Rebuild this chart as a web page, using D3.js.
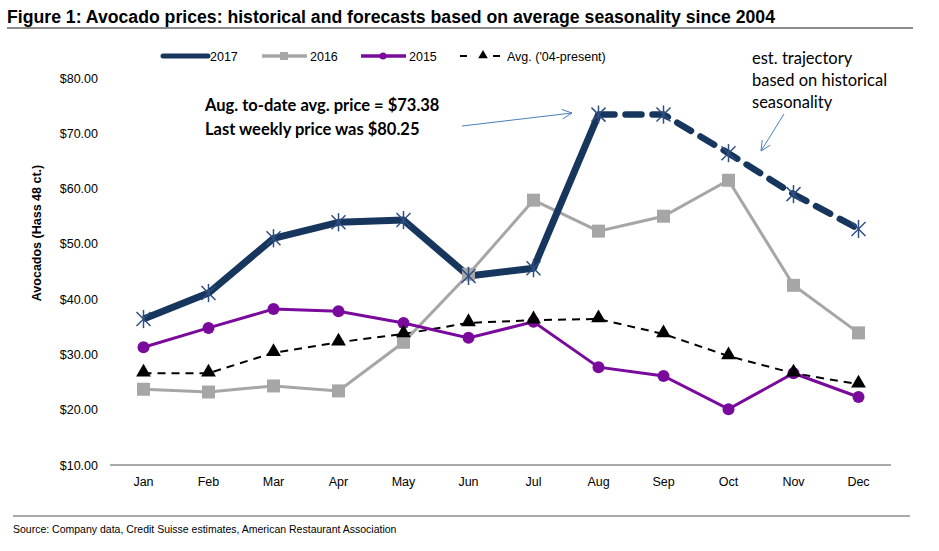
<!DOCTYPE html>
<html><head><meta charset="utf-8">
<script src="https://cdn.jsdelivr.net/npm/d3@7"></script>
<style>body{margin:0;background:#fff}svg{display:block}</style>
</head><body>
<script>
const months = ["Jan","Feb","Mar","Apr","May","Jun","Jul","Aug","Sep","Oct","Nov","Dec"];
const y2017 = [36.4,41.1,51.0,53.9,54.3,44.2,45.6,73.38,73.4,66.4,59.0,52.7];
const y2016 = [23.7,23.2,24.3,23.4,32.2,44.5,57.9,52.3,55.0,61.5,42.5,33.9];
const y2015 = [31.3,34.8,38.2,37.8,35.7,33.0,35.9,27.7,26.1,20.1,26.6,22.3];
const yAvg  = [26.6,26.6,30.3,32.2,33.7,35.7,36.2,36.4,33.7,29.7,26.6,24.6];
const yTicks = [10,20,30,40,50,60,70,80];
const actualUntil = 7; // index of Aug: solid up to here, dashed after

const W=939,H=551;
const svg=d3.select("body").append("svg").attr("width",W).attr("height",H);
const x=d3.scaleBand().domain(months).range([111,891]);
const cx=m=>x(m)+x.bandwidth()/2;
const y=d3.scaleLinear().domain([10,80]).range([465,78]);

// title
svg.append("text").attr("x",7).attr("y",23).attr("font-family","Liberation Sans, Arial, sans-serif")
  .attr("font-weight","bold").attr("font-size",17.5).attr("fill","#000")
  .attr("textLength",768).attr("lengthAdjust","spacingAndGlyphs")
  .text("Figure 1: Avocado prices: historical and forecasts based on average seasonality since 2004");
svg.append("line").attr("x1",7).attr("x2",913).attr("y1",28).attr("y2",28).attr("stroke","#8c8c8c").attr("stroke-width",2);

// y axis
const ya=svg.append("g").attr("transform","translate(98,0)")
  .call(d3.axisLeft(y).tickValues(yTicks).tickSize(0).tickPadding(0).tickFormat(d=>"$"+d3.format(".2f")(d)));
ya.select(".domain").remove();
ya.selectAll("text").attr("font-family","Liberation Sans, Arial, sans-serif").attr("font-size",12.5).attr("fill","#000");

// x axis
const xa=svg.append("g").attr("transform","translate(0,465)")
  .call(d3.axisBottom(x).tickSize(0).tickPadding(12));
xa.select(".domain").attr("stroke","#8c8c8c").attr("stroke-width",1.5).attr("d","M110,0H891");
xa.selectAll("text").attr("font-family","Liberation Sans, Arial, sans-serif").attr("font-size",12.5).attr("fill","#000");

// y label
svg.append("text").attr("transform","translate(41,233) rotate(-90)").attr("text-anchor","middle")
  .attr("font-family","Liberation Sans, Arial, sans-serif").attr("font-weight","bold").attr("font-size",12.5)
  .text("Avocados (Hass 48 ct.)");

const line=d3.line().x(d=>cx(d.m)).y(d=>y(d.v));
const pts=arr=>arr.map((v,i)=>({m:months[i],v}));

// avg dashed
svg.append("path").attr("d",line(pts(yAvg))).attr("fill","none").attr("stroke","#000").attr("stroke-width",2).attr("stroke-dasharray","8,6");
// 2016
svg.append("path").attr("d",line(pts(y2016))).attr("fill","none").attr("stroke","#a6a6a6").attr("stroke-width",3);
// 2015
svg.append("path").attr("d",line(pts(y2015))).attr("fill","none").attr("stroke","#7a0a9c").attr("stroke-width",3);
// 2017
const p17=pts(y2017);
svg.append("path").attr("d",line(p17.slice(0,actualUntil+1))).attr("fill","none").attr("stroke","#17365d").attr("stroke-width",7).attr("stroke-linejoin","round");
svg.append("path").attr("d",line(p17.slice(actualUntil))).attr("fill","none").attr("stroke","#17365d").attr("stroke-width",6.5).attr("stroke-dasharray","16,11").attr("stroke-linecap","round");

// markers
const sq=svg.append("g");
pts(y2016).forEach(d=>sq.append("rect").attr("x",cx(d.m)-6.5).attr("y",y(d.v)-6.5).attr("width",13).attr("height",13).attr("fill","#a6a6a6"));
pts(y2015).forEach(d=>svg.append("circle").attr("cx",cx(d.m)).attr("cy",y(d.v)).attr("r",6).attr("fill","#7a0a9c"));
const tri=d3.symbol().type(d3.symbolTriangle).size(95);
pts(yAvg).forEach(d=>svg.append("path").attr("d",tri()).attr("transform",`translate(${cx(d.m)},${y(d.v)-1})`).attr("fill","#000"));
const star=(g,px,py,r)=>{
  const s="#2f4f80";
  g.append("line").attr("x1",px-r).attr("x2",px+r).attr("y1",py-r).attr("y2",py+r).attr("stroke",s).attr("stroke-width",1.5);
  g.append("line").attr("x1",px-r).attr("x2",px+r).attr("y1",py+r).attr("y2",py-r).attr("stroke",s).attr("stroke-width",1.5);
  g.append("line").attr("x1",px).attr("x2",px).attr("y1",py-r*1.3).attr("y2",py+r*1.3).attr("stroke",s).attr("stroke-width",1.5);
};
const sg=svg.append("g");
p17.forEach(d=>star(sg,cx(d.m),y(d.v),7));

// legend
const lg=svg.append("g").attr("font-family","Liberation Sans, Arial, sans-serif").attr("font-size",12.5);
const legY=56;
lg.append("line").attr("x1",163).attr("x2",208).attr("y1",legY).attr("y2",legY).attr("stroke","#17365d").attr("stroke-width",5).attr("stroke-linecap","round");
lg.append("text").attr("x",210).attr("y",legY+4.5).text("2017");
lg.append("line").attr("x1",262).attr("x2",307).attr("y1",legY).attr("y2",legY).attr("stroke","#a6a6a6").attr("stroke-width",3.5);
lg.append("rect").attr("x",280).attr("y",legY-4).attr("width",8).attr("height",8).attr("fill","#a6a6a6");
lg.append("text").attr("x",310).attr("y",legY+4.5).text("2016");
lg.append("line").attr("x1",361).attr("x2",406).attr("y1",legY).attr("y2",legY).attr("stroke","#7a0a9c").attr("stroke-width",3.5);
lg.append("circle").attr("cx",383).attr("cy",legY).attr("r",3.5).attr("fill","#7a0a9c");
lg.append("text").attr("x",409).attr("y",legY+4.5).text("2015");
lg.append("line").attr("x1",460).attr("x2",467).attr("y1",legY).attr("y2",legY).attr("stroke","#000").attr("stroke-width",2);
lg.append("line").attr("x1",493).attr("x2",500).attr("y1",legY).attr("y2",legY).attr("stroke","#000").attr("stroke-width",2);
lg.append("path").attr("d",d3.symbol().type(d3.symbolTriangle).size(40)()).attr("transform",`translate(483,${legY-0.5})`).attr("fill","#000");
lg.append("text").attr("x",507).attr("y",legY+4.5).text("Avg. ('04-present)");

// annotations
const an=svg.append("g").attr("font-family","Lato, 'Open Sans', sans-serif").attr("font-size",16.5);
an.append("text").attr("x",205).attr("y",111).attr("font-weight","bold").text("Aug. to-date avg. price = $73.38");
an.append("text").attr("x",205).attr("y",135).attr("font-weight","bold").text("Last weekly price was $80.25");
an.append("text").attr("x",752).attr("y",64).text("est. trajectory");
an.append("text").attr("x",752).attr("y",86).text("based on historical");
an.append("text").attr("x",752).attr("y",108).text("seasonality");
const arrowC="#4a7ebb";
const arrow=(x1,y1,x2,y2)=>{
  svg.append("line").attr("x1",x1).attr("y1",y1).attr("x2",x2).attr("y2",y2).attr("stroke",arrowC).attr("stroke-width",1);
  const a=Math.atan2(y2-y1,x2-x1),L=11,s=0.45;
  svg.append("path").attr("d",`M${x2-L*Math.cos(a-s)},${y2-L*Math.sin(a-s)}L${x2},${y2}L${x2-L*Math.cos(a+s)},${y2-L*Math.sin(a+s)}`)
    .attr("fill","none").attr("stroke",arrowC).attr("stroke-width",1);
};
arrow(462,126,572,113);
arrow(784,114,761,151);

// bottom rule + source
svg.append("line").attr("x1",13).attr("x2",910).attr("y1",516).attr("y2",516).attr("stroke","#8c8c8c").attr("stroke-width",1.5);
svg.append("text").attr("x",13).attr("y",533).attr("font-family","Liberation Sans, Arial, sans-serif").attr("font-size",10.5)
  .text("Source: Company data, Credit Suisse estimates, American Restaurant Association");
</script>
</body></html>
